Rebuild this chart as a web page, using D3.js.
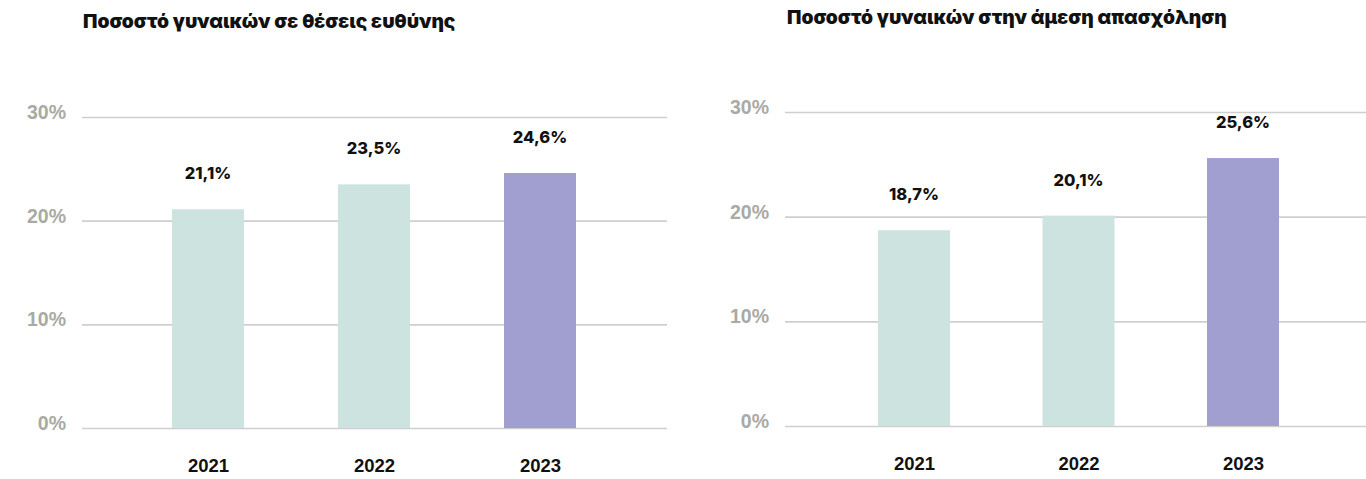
<!DOCTYPE html>
<html lang="el">
<head>
<meta charset="utf-8">
<script src="https://cdn.jsdelivr.net/npm/d3@7"></script>
<style>
  html, body { margin: 0; padding: 0; background: #ffffff; }
  svg { display: block; font-family: Inter, "Noto Sans", sans-serif; }
  .title { font-size: 19.2px; font-weight: 900; fill: #111; }
  .ytick text { font-size: 19.5px; font-weight: 800; fill: #aaaaa5; }
  .xtick text { font-size: 18.5px; font-weight: 800; fill: #111; }
  .value { font-size: 16.5px; font-weight: 800; fill: #111; }
</style>
</head>
<body>
<svg id="chart" width="1366" height="479"></svg>
<script>
// Years on the category axis
const years = ["2021", "2022", "2023"];

// Share of women in management positions (%)
const managementShare = [21.1, 23.5, 24.6];
const managementLabels = ["21,1%", "23,5%", "24,6%"];

// Share of women in direct employment (%)
const employmentShare = [18.7, 20.1, 25.6];
const employmentLabels = ["18,7%", "20,1%", "25,6%"];

// Value axis ticks
const yTicks = [0, 10, 20, 30];
const yTickLabels = ["0%", "10%", "20%", "30%"];

const barColors = ["#cde3df", "#cde3df", "#a19fcf"];

const svg = d3.select("#chart");

function panel(cfg) {
  const g = svg.append("g");

  g.append("text")
    .attr("class", "title")
    .attr("x", cfg.titleX)
    .attr("y", cfg.titleY)
    .text(cfg.title);

  const y = d3.scaleLinear().domain([0, 30]).range([cfg.y0, cfg.y30]);
  const x = d3.scalePoint().domain(years).range([cfg.c0, cfg.c1]);

  // Horizontal gridlines with percent labels
  const yAxis = d3.axisLeft(y)
    .tickValues(yTicks)
    .tickFormat((d, i) => yTickLabels[i])
    .tickSize(-(cfg.gridRight - cfg.gridLeft))
    .tickPadding(16);

  const ya = g.append("g")
    .attr("class", "ytick")
    .attr("transform", `translate(${cfg.gridLeft},0)`)
    .call(yAxis);
  ya.select(".domain").remove();
  ya.selectAll("line").attr("stroke", "#cfcfcf").attr("stroke-width", 1.6);
  ya.selectAll("text").attr("dy", "0.08em");

  // Bars
  g.selectAll("rect.bar")
    .data(cfg.values)
    .join("rect")
    .attr("class", "bar")
    .attr("x", (d, i) => x(years[i]) - cfg.barW / 2)
    .attr("width", cfg.barW)
    .attr("y", d => y(d))
    .attr("height", d => y(0) - y(d))
    .attr("fill", (d, i) => barColors[i]);

  // Value labels above bars
  g.selectAll("text.value")
    .data(cfg.values)
    .join("text")
    .attr("class", "value")
    .attr("text-anchor", "middle")
    .attr("x", (d, i) => x(years[i]))
    .attr("y", d => y(d) - 30)
    .text((d, i) => cfg.labels[i]);

  // Year labels
  const xAxis = d3.axisBottom(x).tickSize(0).tickPadding(0);
  const xa = g.append("g")
    .attr("class", "xtick")
    .attr("transform", `translate(0,${cfg.yearY})`)
    .call(xAxis);
  xa.select(".domain").remove();
  xa.selectAll("text").attr("dy", "0");
}

panel({
  title: "Ποσοστό γυναικών σε θέσεις ευθύνης",
  titleX: 83, titleY: 28,
  values: managementShare, labels: managementLabels,
  y0: 428, y30: 117,
  gridLeft: 82, gridRight: 667,
  c0: 208, c1: 540, barW: 72,
  yearY: 472
});

panel({
  title: "Ποσοστό γυναικών στην άμεση απασχόληση",
  titleX: 787, titleY: 24,
  values: employmentShare, labels: employmentLabels,
  y0: 426, y30: 112,
  gridLeft: 785, gridRight: 1366,
  c0: 914, c1: 1243, barW: 72,
  yearY: 470
});
</script>
</body>
</html>
